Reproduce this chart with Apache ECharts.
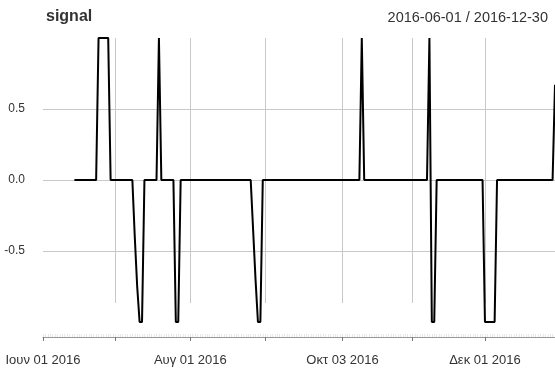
<!DOCTYPE html>
<html>
<head>
<meta charset="utf-8">
<script src="https://cdn.jsdelivr.net/npm/echarts@6/dist/echarts.min.js"></script>
<style>
  html, body { margin: 0; padding: 0; background: #fff; }
  #chart { width: 555px; height: 372px; }
</style>
</head>
<body>
<div id="chart"></div>
<script>
// Daily signal, 2016-06-01 .. 2016-12-30 (null = no value yet)
const startDate = '2016-06-01';
const endDate = '2016-12-30';

const signalJun = [null, null, null, null, null, null, null, null, null, null, null, null, null,
  0, 0, 0, 0, 0, 0, 0, 0, 0, 0, 1, 1, 1, 1, 1, 0, 0];
const signalJul = [0, 0, 0, 0, 0, 0, 0, 0, -0.4, -0.75, -1, -1, 0, 0, 0, 0, 0, 0,
  1, 0, 0, 0, 0, 0, 0, -1, -1, 0, 0, 0, 0];
const signalAug = [0, 0, 0, 0, 0, 0, 0, 0, 0, 0, 0, 0, 0, 0, 0, 0, 0, 0, 0, 0, 0, 0, 0, 0, 0, 0,
  -0.35, -0.7, -1, -1, 0];
const signalSep = [0, 0, 0, 0, 0, 0, 0, 0, 0, 0, 0, 0, 0, 0, 0, 0, 0, 0, 0, 0, 0, 0, 0, 0, 0, 0, 0, 0, 0, 0];
const signalOct = [0, 0, 0, 0, 0, 0, 0, 0, 0, 0, 1, 0, 0, 0, 0, 0, 0, 0, 0, 0, 0, 0, 0, 0, 0, 0, 0, 0, 0, 0, 0];
const signalNov = [0, 0, 0, 0, 0, 0, 0, 1, -1, -1, 0, 0, 0, 0, 0, 0, 0, 0, 0, 0, 0, 0, 0, 0, 0, 0, 0, 0, 0, 0];
const signalDec = [-1, -1, -1, -1, -1, 0, 0, 0, 0, 0, 0, 0, 0, 0, 0, 0, 0, 0, 0, 0, 0, 0, 0, 0, 0, 0, 0, 0, 0, 0.67];

// Axis marks
const tickDates = ['2016-06-01', '2016-07-01', '2016-08-01', '2016-09-01', '2016-10-03', '2016-11-01', '2016-12-01'];
const labelDates = ['2016-06-01', '2016-08-01', '2016-10-03', '2016-12-01'];
const yTickLabels = [-0.5, 0, 0.5];
const monthNames = ['Ιαν', 'Φεβ', 'Μαρ', 'Απρ', 'Μαϊ', 'Ιουν', 'Ιουλ', 'Αυγ', 'Σεπ', 'Οκτ', 'Νοε', 'Δεκ'];

const signal = [].concat(signalJun, signalJul, signalAug, signalSep, signalOct, signalNov, signalDec);

// calendar days from start to end
const dates = [];
for (let t = Date.parse(startDate + 'T00:00:00Z'); t <= Date.parse(endDate + 'T00:00:00Z'); t += 86400000) {
  dates.push(new Date(t).toISOString().slice(0, 10));
}

function fmtDate(d) {
  const m = parseInt(d.slice(5, 7), 10) - 1;
  return monthNames[m] + ' ' + d.slice(8, 10) + ' ' + d.slice(0, 4);
}

const fontFamily = '"Liberation Sans", Arial, sans-serif';
const gridColor = '#c8c8c8';

const chart = echarts.init(document.getElementById('chart'), null, { renderer: 'canvas' });
chart.setOption({
  animation: false,
  backgroundColor: '#fff',
  textStyle: { fontFamily: fontFamily },
  title: [
    { text: 'signal', left: 41, top: 4,
      textStyle: { fontSize: 16, fontWeight: 'bold', color: '#333', fontFamily: fontFamily } },
    { text: startDate + ' / ' + endDate, right: 2, top: 5,
      textStyle: { fontSize: 14.5, fontWeight: 'normal', color: '#333', fontFamily: fontFamily } }
  ],
  grid: [
    { left: 43, right: 0, top: 38, bottom: 50 },
    { left: 43, right: 0, top: 38, bottom: 69 }
  ],
  xAxis: [
    { // main date axis with labels
      type: 'category', gridIndex: 0, position: 'bottom', data: dates, boundaryGap: false, offset: 15,
      axisLine: { onZero: false, lineStyle: { color: '#999', width: 1 } },
      axisTick: { length: 4, lineStyle: { color: '#777' },
        interval: (i, v) => tickDates.indexOf(v) >= 0 },
      axisLabel: { margin: 17, fontSize: 13, color: '#333', fontFamily: fontFamily,
        interval: (i, v) => labelDates.indexOf(v) >= 0,
        formatter: v => fmtDate(v) },
      splitLine: { show: false }
    },
    { // faint daily ticks above the date axis
      type: 'category', gridIndex: 0, position: 'bottom', data: dates, boundaryGap: false, offset: 15,
      axisLine: { show: false, onZero: false },
      axisTick: { inside: true, length: 3, interval: 0, lineStyle: { color: '#e8e8e8' } },
      axisLabel: { show: false },
      splitLine: { show: false }
    },
    { // month grid lines
      type: 'category', gridIndex: 1, position: 'bottom', data: dates, boundaryGap: false,
      axisLine: { show: false, onZero: false }, axisTick: { show: false }, axisLabel: { show: false },
      splitLine: { show: true, interval: (i, v) => tickDates.indexOf(v) > 0,
        lineStyle: { color: gridColor, width: 1 } }
    }
  ],
  yAxis: [
    {
      type: 'value', gridIndex: 0, min: -1, max: 1, interval: 0.5,
      axisLine: { show: false }, axisTick: { show: false },
      axisLabel: { margin: 18, fontSize: 12, color: '#333', fontFamily: fontFamily,
        formatter: v => (yTickLabels.indexOf(v) >= 0 ? v.toFixed(1) : '') },
      splitLine: { show: true, lineStyle: { width: 1,
        color: ['rgba(0,0,0,0)', gridColor, gridColor, gridColor, 'rgba(0,0,0,0)'] } }
    },
    { type: 'value', gridIndex: 1, show: false, min: -1, max: 1 }
  ],
  series: [{
    name: 'signal', type: 'line', xAxisIndex: 0, yAxisIndex: 0,
    data: signal, showSymbol: false, connectNulls: false,
    lineStyle: { color: '#000', width: 2 },
    itemStyle: { color: '#000' }
  }]
});
</script>
</body>
</html>
